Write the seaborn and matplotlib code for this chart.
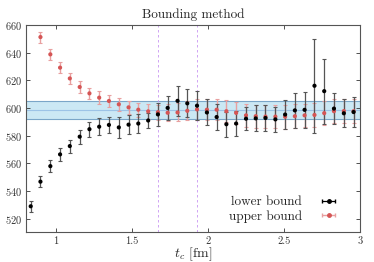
import numpy as np
import matplotlib
matplotlib.use("Agg")
import matplotlib.pyplot as plt
import seaborn as sns

# cutoff times t_c [fm]
t_lower = [0.836, 0.900, 0.965, 1.029, 1.093, 1.158, 1.222, 1.286, 1.350, 1.415,
           1.479, 1.543, 1.608, 1.672, 1.736, 1.801, 1.865, 1.929, 1.994, 2.058,
           2.122, 2.186, 2.251, 2.315, 2.379, 2.444, 2.508, 2.572, 2.636, 2.701,
           2.765, 2.829, 2.894, 2.958]
t_upper = t_lower[1:]

lower = [529.0, 546.8, 558.0, 566.5, 572.5, 579.3, 584.7, 586.5, 587.8, 586.0,
         588.0, 588.8, 591.0, 595.4, 600.1, 605.2, 603.4, 601.7, 596.8, 593.5,
         588.3, 588.8, 592.3, 592.5, 592.8, 591.8, 595.3, 598.3, 598.7, 616.1,
         612.2, 599.6, 596.2, 597.1]
lower_err = [3.8, 4.2, 4.3, 4.5, 4.7, 5.0, 5.5, 6.0, 6.0, 7.5,
             7.0, 7.0, 5.5, 8.4, 8.8, 11.0, 10.0, 10.3, 9.4, 9.7,
             8.9, 9.2, 8.5, 9.4, 9.4, 9.0, 10.6, 12.9, 13.0, 33.8,
             23.5, 11.4, 10.0, 10.6]

upper = [651.3, 638.8, 629.2, 621.4, 615.2, 610.6, 607.5, 605.1, 602.7, 600.5,
         598.8, 597.6, 597.0, 596.6, 596.8, 598.0, 599.0, 598.8, 598.8, 597.7,
         596.5, 594.7, 594.1, 593.8, 593.8, 593.7, 594.1, 594.7, 595.0, 596.3,
         597.7, 597.8, 597.7]
upper_err = [4.0, 4.0, 4.0, 4.0, 4.2, 4.2, 4.5, 4.3, 4.5, 4.7,
             5.2, 5.5, 5.5, 6.0, 6.5, 7.0, 7.3, 7.6, 7.8, 8.0,
             8.0, 8.3, 8.3, 8.5, 8.5, 8.5, 8.5, 8.5, 8.8, 8.5,
             8.5, 8.5, 8.5]

band_lo, band_mid, band_hi = 591.8, 598.3, 604.8
vlines = [1.672, 1.929]

sns.set_style("ticks")
plt.rcParams["font.family"] = "serif"
plt.rcParams["font.serif"] = ["cmr10", "DejaVu Serif"]
plt.rcParams["mathtext.fontset"] = "cm"
plt.rcParams["axes.formatter.use_mathtext"] = True

fig = plt.figure(figsize=(3.74, 2.62), dpi=100)
ax = fig.add_axes([0.0695, 0.1145, 0.893, 0.790])

ax.axhspan(band_lo, band_hi, color="#bfe3f2", alpha=0.8, lw=0, zorder=0)
for yv in (band_lo, band_hi):
    ax.axhline(yv, color="#7aa6c8", lw=0.8, zorder=1)
ax.axhline(band_mid, color="#9cc3e6", lw=0.8, zorder=1)

for xv in vlines:
    ax.axvline(xv, color="#c995f2", lw=0.6, ls=(0, (3, 3)), zorder=1)

ax.errorbar(t_upper, upper, yerr=upper_err, fmt="none", ecolor="#e8a0a0",
            elinewidth=1.0, capsize=1.6, capthick=0.8, zorder=2)
ax.errorbar(t_lower, lower, yerr=lower_err, fmt="none", ecolor="#555555",
            elinewidth=0.9, capsize=1.6, capthick=0.8, zorder=3)
sns.scatterplot(x=t_upper, y=upper, ax=ax, color="#d55555", s=9, marker="o",
                edgecolor="none", zorder=4)
sns.scatterplot(x=t_lower, y=lower, ax=ax, color="black", s=9, marker="o",
                edgecolor="none", zorder=5)

# legend handles in horizontal style
h1 = ax.errorbar([np.nan], [np.nan], xerr=[1], fmt="o", color="black", ms=2.5,
                 ecolor="black", elinewidth=0.9, capsize=1.6, label="lower bound")
h2 = ax.errorbar([np.nan], [np.nan], xerr=[1], fmt="o", color="#d55555", ms=2.5,
                 ecolor="#e8a0a0", elinewidth=1.0, capsize=1.6, label="upper bound")
ax.legend(handles=[h1, h2], loc="lower right", frameon=False, markerfirst=False,
          fontsize=9.5, handlelength=2.3, handletextpad=0.9, labelspacing=0.15,
          borderaxespad=0.3, bbox_to_anchor=(0.98, 0.0))

ax.set_xlim(0.805, 3.0)
ax.set_ylim(510.4, 660)
ax.set_xticks([1, 1.5, 2, 2.5, 3])
ax.set_xticklabels(["1", "1.5", "2", "2.5", "3"])
ax.set_yticks(range(520, 661, 20))
ax.tick_params(direction="in", top=True, right=True, length=3, width=0.6,
               labelsize=7.5, colors="#333333", pad=3)
for sp in ax.spines.values():
    sp.set_color("#555555")
    sp.set_linewidth(0.8)

ax.set_title("Bounding method", fontsize=9.5, pad=5)
ax.set_xlabel(r"$t_c$ [fm]", fontsize=10, labelpad=0)
ax.set_ylabel("")

fig.savefig("out.png", dpi=100)
